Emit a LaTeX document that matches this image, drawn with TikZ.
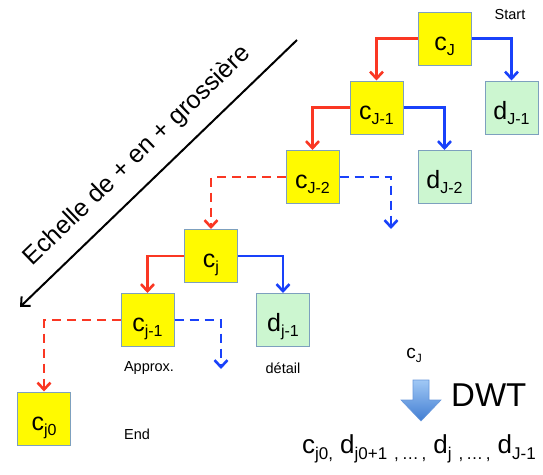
\documentclass[tikz,border=0pt]{standalone}
\usepackage{fontspec}
\setmainfont{Liberation Sans}
\usetikzlibrary{arrows.meta}
\definecolor{boxborder}{RGB}{125,160,190}
\definecolor{cyel}{RGB}{255,250,0}
\definecolor{dgreen}{RGB}{204,246,208}
\definecolor{lred}{RGB}{250,55,35}
\definecolor{lblue}{RGB}{25,65,250}
\definecolor{dwttop}{RGB}{160,200,245}
\definecolor{dwtbot}{RGB}{65,125,210}
\newcommand{\bsub}[1]{\raisebox{-5pt}{\fontsize{16}{16}\selectfont #1}}
\newcommand{\ssub}[1]{\raisebox{-6pt}{\fontsize{17}{17}\selectfont #1}}
\newcommand{\coef}[2]{{\fontsize{25}{25}\selectfont #1}\bsub{#2}}
\newcommand{\sq}[2]{{\fontsize{26}{26}\selectfont #1}\ssub{#2}}
\begin{document}
\begin{tikzpicture}[x=1pt,y=-1pt,
  cbox/.style={draw=boxborder, line width=1pt, fill=cyel, minimum width=53pt, minimum height=53pt, inner sep=0pt, text height=23pt, text depth=0pt},
  dbox/.style={cbox, fill=dgreen},
  tip/.style={-{Straight Barb[length=7pt,width=13pt]}},
  apx/.style={draw=lred, line width=2.6pt, tip},
  det/.style={draw=lblue, line width=2.6pt, tip},
  dsh/.style={dash pattern=on 9pt off 6pt},
  lbl/.style={font=\fontsize{14.5}{14.5}\selectfont}]
\useasboundingbox (0,0) rectangle (543,474);

% boxes
\node[cbox] (cJ)  at (444.5,38.5) {\coef{c}{J}};
\node[cbox] (cJ1) at (376.5,107.5) {\coef{c}{J-1}};
\node[dbox] (dJ1) at (511.5,107.5) {\coef{d}{J-1}};
\node[cbox] (cJ2) at (312.5,177) {\coef{c}{J-2}};
\node[dbox] (dJ2) at (444.5,177) {\coef{d}{J-2}};
\node[cbox] (cj)  at (211,256) {\coef{c}{j}};
\node[cbox] (cj1) at (147.5,320) {\coef{c}{j-1}};
\node[dbox] (dj1) at (283,320) {\coef{d}{j-1}};
\node[cbox] (cj0) at (44,418.5) {\coef{c}{j0}};

% free ends
\coordinate (eJ2) at (391,229);
\coordinate (ej1) at (221,369);

% connectors
\draw[apx] (cJ.west) -| (cJ1.north);
\draw[det] (cJ.east) -| (dJ1.north);
\draw[apx] (cJ1.west) -| (cJ2.north);
\draw[det] (cJ1.east) -| (dJ2.north);
\draw[apx,dsh] (cJ2.west) -| (cj.north);
\draw[det,dsh] (cJ2.east) -| (eJ2);
\draw[apx] (cj.west) -| (cj1.north);
\draw[det] (cj.east) -| (dj1.north);
\draw[apx,dsh] (cj1.west) -| (cj0.north);
\draw[det,dsh] (cj1.east) -| (ej1);

% scale arrow
\coordinate (s0) at (297,40);
\coordinate (s1) at (20,307);
\draw[line width=2pt, -{Straight Barb[length=7pt,width=13pt]}] (s0) -- (s1);
\node[rotate=44, font=\fontsize{25}{25}\selectfont] (scl) at (137,156) {Echelle de + en + grossière};

% labels
\node[lbl] (start) at (510,15) {Start};
\node[lbl] (approx) at (149,368) {Approx.};
\node[lbl] (detail) at (283,368) {détail};
\node[lbl] (end) at (137,434) {End};

% DWT
\node (cjl) at (414,355) {{\fontsize{19}{19}\selectfont c}\raisebox{-4pt}{\fontsize{12}{12}\selectfont J}};
\shade[top color=dwttop, bottom color=dwtbot, draw=dwtbot!80!white, line width=0.6pt]
  (413,380) -- (429,380) -- (429,400) -- (441,400) -- (421,421) -- (401,400) -- (413,400) -- cycle;
\node[anchor=west, font=\fontsize{33}{33}\selectfont, inner sep=0pt] (dwt) at (451,395) {DWT};
\node[anchor=base west, inner sep=0pt] (seq) at (302,453)
  {\sq{c}{j0,}\hspace{7pt}\sq{d}{j0+1}\hspace{7pt}\ssub{,\,…\,,}\hspace{7pt}\sq{d}{j}\hspace{7pt}\ssub{,\,…\,,}\hspace{7pt}\sq{d}{J-1}};
\end{tikzpicture}
\end{document}
